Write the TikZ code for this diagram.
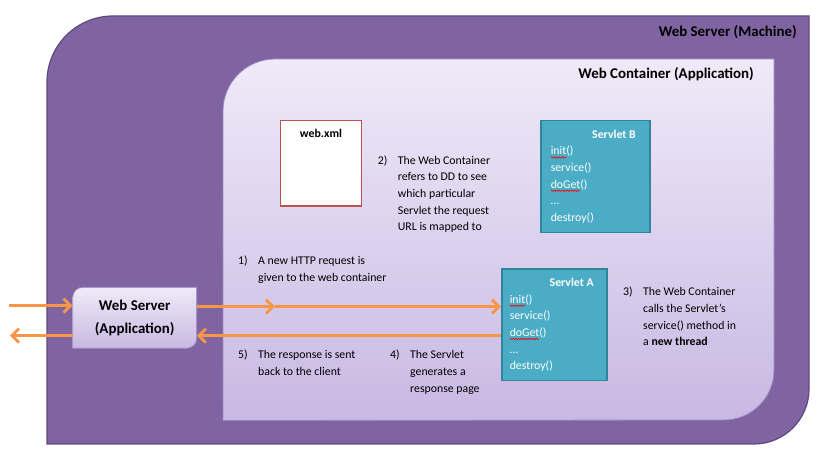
\documentclass[tikz,border=0pt]{standalone}
\usepackage{fontspec}
\setmainfont{Carlito}
\usetikzlibrary{arrows.meta,decorations.pathmorphing}

\definecolor{machine}{HTML}{8064A2}
\definecolor{machineline}{HTML}{5E4A7D}
\definecolor{conttop}{HTML}{EFEAF8}
\definecolor{contbot}{HTML}{C9B8E3}
\definecolor{contline}{HTML}{9A85BE}
\definecolor{xmlred}{HTML}{C0504D}
\definecolor{servlet}{HTML}{4BACC6}
\definecolor{servletline}{HTML}{31849B}
\definecolor{flow}{HTML}{F79646}

% numbered remark: number, then lines
\newcommand{\stepnote}[2]{\begin{tabular}[t]{@{}p{20pt}@{}l@{}}#1 & \begin{tabular}[t]{@{}l@{}}#2\end{tabular}\end{tabular}}

\tikzset{
  body/.style={font=\fontsize{11.8}{16.6}\selectfont},
  heading/.style={font=\fontsize{14.9}{18}\selectfont\bfseries, inner sep=0pt, anchor=base east},
  note/.style={body, inner sep=0pt, anchor=base west},
  servletbox/.style={body, draw=servletline, line width=1.5pt, fill=servlet, text=white,
    inner ysep=6pt, anchor=north west},
  flowline/.style={draw=flow, line width=2.8pt, -{Straight Barb[length=7pt,width=14pt]}},
  spellwave/.style={red, line width=0.6pt, decorate, decoration={snake, amplitude=0.7pt, segment length=2.6pt}},
}

\begin{document}
\begin{tikzpicture}[x=1pt, y=-1pt]
    \useasboundingbox[fill=white] (0,0) rectangle (831,454);

    % Web Server (Machine)
    \draw[machineline, line width=1.2pt, fill=machine]
        (47,444) -- (47,82) arc[start angle=180, end angle=270, radius=66]
        -- (809,16) -- (809,389) arc[start angle=0, end angle=90, radius=55] -- cycle;
    \node[heading] (machinetitle) at (797,37) {Web Server (Machine)};

    % Web Container (Application)
    \draw[contline, line width=0.8pt, top color=conttop, bottom color=contbot]
        (223,420.5) -- (223,111) arc[start angle=180, end angle=270, radius=52]
        -- (774,59) -- (774,370) arc[start angle=0, end angle=90, radius=50] -- cycle;
    \node[heading] (containertitle) at (754,79) {Web Container (Application)};

    % deployment descriptor
    \node[body, font=\fontsize{11.8}{16.6}\selectfont\bfseries, draw=xmlred, line width=1.5pt, fill=white,
          anchor=north, minimum width=80.6pt, inner ysep=5pt, text height=12pt, text depth=63.3pt]
          (webxml) at (321,120) {web.xml};

    % servlets
    \node[servletbox, inner xsep=10pt] (servletb) at (540,120) {\begin{tabular}[t]{@{}p{89pt}@{}}
        \hfill\textbf{Servlet B}\hspace*{4pt}\\ init()\\ service()\\ doGet()\\ …\\ destroy()\end{tabular}};
    \node[servletbox, inner xsep=8pt] (servleta) at (501,268.3) {\begin{tabular}[t]{@{}p{89pt}@{}}
        \hfill\textbf{Servlet A}\hspace*{5pt}\\ init()\\ service()\\ doGet()\\ …\\ destroy()\end{tabular}};
    % spell-check marks under init and doGet
    \foreach \srv/\dx in {servleta/8.75, servletb/10.75} {
        \draw[spellwave] ([xshift=\dx pt, yshift=-37.5pt]\srv.north west) -- ++(15.6,0);
        \draw[spellwave] ([xshift=\dx pt, yshift=-70.7pt]\srv.north west) -- ++(29.7,0);
    }

    % Web Server (Application)
    \draw[contline, line width=0.8pt, top color=conttop, bottom color=contbot]
        (72.7,348.3) -- (72.7,297.3) arc[start angle=180, end angle=270, radius=10]
        -- (196.7,287.3) -- (196.7,338.3) arc[start angle=0, end angle=90, radius=10] -- cycle;
    \node[font=\fontsize{14.9}{22.7}\selectfont\bfseries, align=center, inner sep=0pt,
          minimum width=124pt, minimum height=61pt] (wsapp) at (134.7,317.8) {Web Server\\(Application)};

    % request / response flow
    \coordinate (clientin) at (9,305.7);
    \coordinate (clientout) at (10,335.7);
    \coordinate (reqmid) at (275,306.7);
    \coordinate (resp) at (300,335.7);
    \draw[flowline] (clientin) -- (clientin -| wsapp.west);
    \draw[flowline] (clientout -| wsapp.west) -- (clientout);
    \draw[flowline] (reqmid -| wsapp.east) -- (reqmid);
    \draw[flowline] (reqmid) -- (reqmid -| servleta.west);
    \draw[flowline] (resp -| servleta.west) -- (resp -| wsapp.east);

    % steps
    \node[note] (step1) at (238,265) {\stepnote{1)}{A new HTTP request is\\given to the web container}};
    \node[note] (step2) at (377.7,164.3) {\stepnote{2)}{The Web Container\\refers to DD to see\\which particular\\Servlet the request\\URL is mapped to}};
    \node[note] (step3) at (623,296) {\stepnote{3)}{The Web Container\\calls the Servlet’s\\service() method in\\a \textbf{new thread}}};
    \node[note] (step4) at (390,359) {\stepnote{4)}{The Servlet\\generates a\\response page}};
    \node[note] (step5) at (238,359) {\stepnote{5)}{The response is sent\\back to the client}};
\end{tikzpicture}
\end{document}
